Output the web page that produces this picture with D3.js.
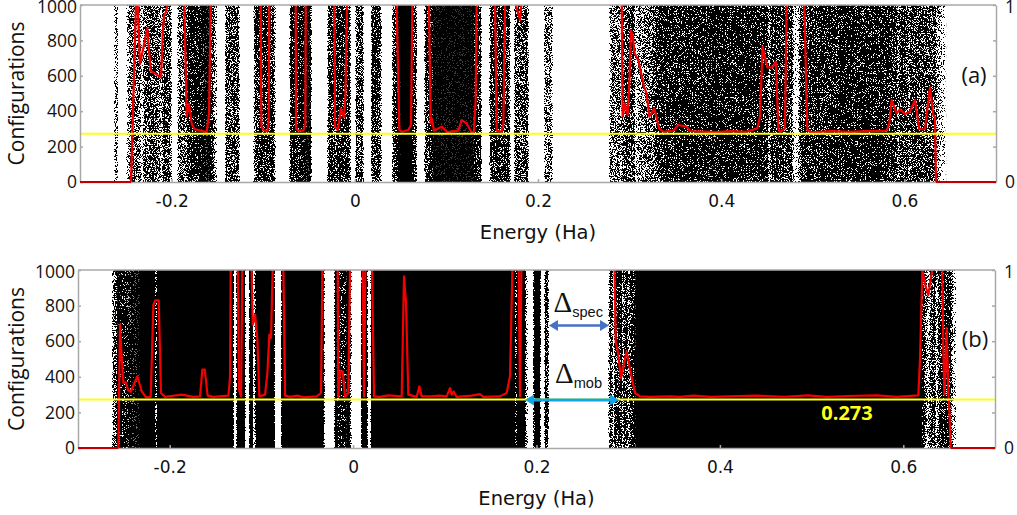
<!DOCTYPE html>
<html>
<head>
<meta charset="utf-8">
<script src="https://cdn.jsdelivr.net/npm/d3@7"></script>
<style>
html, body { margin: 0; padding: 0; background: #fff; }
svg { display: block; }
text { font-family: "Open Sans", sans-serif; fill: #111; }
</style>
</head>
<body>
<script>
var xTicks = [-0.2, 0, 0.2, 0.4, 0.6];
var yTicks = [0, 200, 400, 600, 800, 1000];
var mobilityEdge = 273;

// point density of the scatter, [energy, density 0..1]
var densityA = [[-0.2625,0],[-0.2618,0.45],[-0.2592,0.45],[-0.2585,0],[-0.2497,0],[-0.2454,0.6],[-0.2345,0.55],[-0.2326,0.1],[-0.2301,0.6],[-0.2236,0.7],[-0.2134,0.6],[-0.2115,0.3],[-0.209,0.7],[-0.2017,0.7],[-0.1992,0],[-0.1944,0],[-0.1922,0.55],[-0.1842,0.6],[-0.1817,0.9],[-0.158,0.95],[-0.1537,0.6],[-0.15,0],[-0.1417,0],[-0.1406,0.65],[-0.1271,0.7],[-0.1253,0],[-0.1107,0],[-0.1089,0.8],[-0.0889,0.85],[-0.086,0],[-0.0714,0],[-0.07,0.9],[-0.0489,0.95],[-0.0467,0],[-0.03,0],[-0.0285,0.8],[-0.0059,0.85],[-0.0037,0],[0.0006,0],[0.0017,0.65],[0.0086,0.7],[0.0101,0],[0.0174,0],[0.0188,0.8],[0.0275,0.8],[0.0293,0],[0.0402,0],[0.0421,0.7],[0.0475,0.95],[0.0621,0.97],[0.0668,0.7],[0.0683,0],[0.0756,0],[0.0777,0.8],[0.0857,0.95],[0.1294,0.95],[0.1374,0.75],[0.1385,0],[0.1469,0],[0.1483,0.8],[0.1687,0.8],[0.1702,0],[0.1738,0],[0.1749,0.65],[0.1884,0.7],[0.1902,0],[0.2066,0],[0.2077,0.5],[0.2146,0.5],[0.216,0],[0.2779,0],[0.2793,0.55],[0.2888,0.55],[0.2902,0.3],[0.2932,0.65],[0.3048,0.8],[0.3066,0.1],[0.3099,0.5],[0.3259,0.6],[0.3332,0.85],[0.355,0.9],[0.3914,0.93],[0.4423,0.9],[0.4503,0.85],[0.4522,0.25],[0.4543,0.8],[0.4769,0.8],[0.4795,0.1],[0.4838,0.1],[0.4867,0.8],[0.5297,0.9],[0.5733,0.92],[0.5915,0.8],[0.5934,0.45],[0.5959,0.8],[0.6035,0.7],[0.6054,0.5],[0.6072,0.75],[0.6316,0.7],[0.6389,0.3],[0.6443,0.03],[0.649,0]];
var densityB = [[-0.2633,0],[-0.2614,0.55],[-0.2585,0.6],[-0.2571,0.95],[-0.2524,0.92],[-0.2324,0.95],[-0.2305,1],[-0.216,0.99],[-0.2149,0.4],[-0.2134,0.99],[-0.1633,0.97],[-0.1306,1],[-0.1298,0],[-0.1277,0],[-0.1266,1],[-0.1178,1],[-0.1171,0],[-0.1138,0],[-0.1128,1],[-0.1095,1],[-0.1088,0.15],[-0.1073,0.15],[-0.1062,1],[-0.0859,1],[-0.0848,0],[-0.079,0],[-0.0779,1],[-0.0324,1],[-0.0306,0],[-0.0208,0],[-0.0197,0.98],[-0.0125,0.85],[-0.0041,1],[-0.0012,0],[0.0083,0],[0.0094,1],[0.0152,1],[0.0163,0],[0.0188,0],[0.0199,1],[0.1766,1],[0.1776,0.3],[0.1784,1],[0.1875,1],[0.1885,0.5],[0.1904,0],[0.1958,0],[0.1973,0.9],[0.2002,1],[0.2038,1],[0.2049,0],[0.2085,0],[0.2096,0.9],[0.2125,0.9],[0.2136,0],[0.2783,0],[0.2802,0.75],[0.2827,0.75],[0.2838,0.1],[0.2856,0.85],[0.2929,0.85],[0.294,0.3],[0.2954,0.85],[0.2994,0.7],[0.3005,0.4],[0.3027,0.85],[0.3111,1],[0.611,1],[0.62,0.95],[0.6237,0.7],[0.6273,0.2],[0.6291,0.6],[0.6346,0.85],[0.6364,0.1],[0.6382,0.8],[0.6509,0.9],[0.6546,0.3],[0.6582,0]];

// red curve, [energy, configurations]; values over 1000 leave the frame
var curveA = [[-0.3,0],[-0.2443,0],[-0.2381,1150],[-0.2345,667],[-0.2265,868],[-0.2228,627],[-0.2115,591],[-0.2097,840],[-0.2083,940],[-0.2061,960],[-0.2046,1002],[-0.2,1150],[-0.19,1150],[-0.1861,1002],[-0.1835,369],[-0.181,441],[-0.1781,331],[-0.1751,299],[-0.1617,282],[-0.1591,388],[-0.1573,1002],[-0.15,1150],[-0.11,1150],[-0.1027,1002],[-0.102,313],[-0.0998,294],[-0.0954,286],[-0.094,350],[-0.0933,1002],[-0.09,1150],[-0.07,1150],[-0.0645,1002],[-0.0642,303],[-0.0616,290],[-0.0562,290],[-0.054,322],[-0.0536,1002],[-0.05,1150],[-0.03,1150],[-0.0223,1002],[-0.0216,313],[-0.0187,294],[-0.0168,350],[-0.0154,416],[-0.0118,365],[-0.0103,482],[-0.0085,1002],[-0.005,1150],[0.04,1150],[0.0457,1002],[0.0486,294],[0.0512,284],[0.0584,294],[0.0614,322],[0.0628,1002],[0.065,1150],[0.078,1150],[0.081,1002],[0.0828,331],[0.0839,360],[0.0865,290],[0.0948,313],[0.101,282],[0.113,290],[0.1167,350],[0.1221,331],[0.1276,280],[0.1301,284],[0.1319,463],[0.133,1002],[0.136,1150],[0.15,1150],[0.1531,1002],[0.1549,290],[0.1603,284],[0.1622,331],[0.164,1002],[0.166,1150],[0.174,1150],[0.1757,1002],[0.1804,915],[0.1818,1002],[0.184,1150],[0.288,1150],[0.2914,1002],[0.2924,369],[0.295,444],[0.2979,378],[0.2997,557],[0.3015,855],[0.3033,830],[0.3055,727],[0.3095,689],[0.3157,539],[0.3186,501],[0.3215,369],[0.327,416],[0.3321,303],[0.3368,284],[0.3477,290],[0.3532,322],[0.3623,313],[0.3659,288],[0.38,285],[0.395,282],[0.41,287],[0.4278,284],[0.4394,303],[0.4423,369],[0.4452,765],[0.4503,648],[0.4562,648],[0.4598,680],[0.4623,303],[0.4642,284],[0.4696,303],[0.4714,1002],[0.474,1150],[0.488,1150],[0.4907,1002],[0.494,294],[0.4987,280],[0.52,287],[0.54,283],[0.56,287],[0.5806,290],[0.5835,331],[0.5861,463],[0.5915,388],[0.5951,410],[0.6006,384],[0.6061,397],[0.6116,463],[0.6163,298],[0.6225,298],[0.6279,535],[0.6316,378],[0.6334,369],[0.6345,0],[0.7,0]];
var curveB = [[-0.3,0],[-0.256,0],[-0.2542,693],[-0.2524,515],[-0.2505,365],[-0.248,369],[-0.2451,324],[-0.2425,315],[-0.2353,403],[-0.2305,318],[-0.2258,285],[-0.2207,287],[-0.2178,805],[-0.2156,830],[-0.212,830],[-0.2095,309],[-0.2051,287],[-0.1869,300],[-0.1742,287],[-0.1669,290],[-0.1644,440],[-0.1618,440],[-0.1586,294],[-0.1524,287],[-0.136,294],[-0.1342,400],[-0.1335,1000],[-0.132,1150],[-0.127,1150],[-0.1258,1000],[-0.1244,328],[-0.1222,290],[-0.1208,1000],[-0.118,1150],[-0.113,1150],[-0.1106,1000],[-0.1095,693],[-0.1069,749],[-0.1044,609],[-0.1022,290],[-0.096,300],[-0.0935,421],[-0.0913,637],[-0.0895,618],[-0.0877,1000],[-0.085,1150],[-0.079,1150],[-0.076,1000],[-0.0742,294],[-0.0688,287],[-0.0608,294],[-0.0542,285],[-0.0397,290],[-0.035,309],[-0.0335,1000],[-0.03,1150],[-0.02,1150],[-0.0168,1000],[-0.0161,287],[-0.0143,431],[-0.0113,431],[-0.0088,287],[-0.0052,309],[-0.0034,1000],[0,1150],[0.008,1150],[0.0105,1000],[0.0119,290],[0.0134,1000],[0.015,1150],[0.019,1150],[0.0207,1000],[0.0228,290],[0.0293,287],[0.0384,296],[0.053,290],[0.0555,964],[0.0577,815],[0.0602,300],[0.0693,287],[0.0722,346],[0.0748,290],[0.0857,290],[0.094,294],[0.102,290],[0.1057,337],[0.1075,300],[0.1097,318],[0.1129,287],[0.1293,294],[0.1384,303],[0.142,287],[0.16,290],[0.1675,309],[0.1711,403],[0.1737,1000],[0.175,1150],[0.179,1150],[0.1806,1000],[0.182,290],[0.1835,1000],[0.185,1150],[0.283,1150],[0.2852,1000],[0.2864,590],[0.2881,562],[0.2922,393],[0.2983,543],[0.302,440],[0.3074,309],[0.3129,290],[0.3238,287],[0.3456,290],[0.3565,287],[0.371,294],[0.39,287],[0.42,292],[0.4401,294],[0.47,288],[0.4965,296],[0.5164,287],[0.54,292],[0.571,296],[0.5928,287],[0.6164,296],[0.6182,496],[0.6208,1000],[0.6244,908],[0.6273,858],[0.6299,950],[0.6317,1000],[0.634,1150],[0.64,1150],[0.6426,1000],[0.6437,534],[0.6448,300],[0.6462,460],[0.6473,674],[0.6491,309],[0.6502,215],[0.6517,0],[0.7,0]];

var width = 1017, height = 515;
var svg = d3.select("body").append("svg").attr("width", width).attr("height", height);
var defs = svg.append("defs");

// grain for the scatter: source grey + noise, then hard threshold
var grain = defs.append("filter").attr("id", "grain").attr("x", 0).attr("y", 0)
	.attr("width", 1).attr("height", 1).attr("color-interpolation-filters", "sRGB");
grain.append("feTurbulence").attr("type", "fractalNoise").attr("baseFrequency", 1.37)
	.attr("numOctaves", 1).attr("seed", 4).attr("result", "raw");
grain.append("feColorMatrix").attr("in", "raw").attr("type", "matrix")
	.attr("values", "4 0 0 0 -1.5 4 0 0 0 -1.5 4 0 0 0 -1.5 0 0 0 0 1").attr("result", "noise");
grain.append("feComposite").attr("in", "SourceGraphic").attr("in2", "noise").attr("operator", "arithmetic")
	.attr("k1", 0).attr("k2", 1.1).attr("k3", 1).attr("k4", -1.05).attr("result", "mix");
var cut = grain.append("feComponentTransfer").attr("in", "mix").attr("result", "dots");
["feFuncR", "feFuncG", "feFuncB"].forEach(function(f){
	cut.append(f).attr("type", "linear").attr("slope", 30).attr("intercept", 0);
});
grain.append("feGaussianBlur").attr("in", "dots").attr("stdDeviation", 0.35);

function drawPanel(id, box, density, curve){
	var x = d3.scaleLinear().domain([-0.3, 0.7]).range([box.left, box.right]);
	var y = d3.scaleLinear().domain([0, 1000]).range([box.bottom, box.top]);
	var g = svg.append("g").attr("id", "panel" + id);

	var grad = defs.append("linearGradient").attr("id", "dens" + id)
		.attr("gradientUnits", "userSpaceOnUse")
		.attr("x1", box.left).attr("x2", box.right).attr("y1", 0).attr("y2", 0);
	grad.selectAll("stop").data(density).enter().append("stop")
		.attr("offset", function(d){ return (x(d[0]) - box.left) / (box.right - box.left); })
		.attr("stop-color", function(d){ var v = Math.round(255 * (1 - d[1])); return d3.rgb(v, v, v).formatHex(); });

	g.append("rect").attr("x", box.left).attr("y", box.top)
		.attr("width", box.right - box.left).attr("height", box.bottom - box.top)
		.attr("fill", "url(#dens" + id + ")").attr("filter", "url(#grain)");

	defs.append("clipPath").attr("id", "clip" + id).append("rect")
		.attr("x", box.left).attr("y", box.top)
		.attr("width", box.right - box.left).attr("height", box.bottom - box.top);

	var line = d3.line().x(function(d){ return x(d[0]); }).y(function(d){ return y(d[1]); });
	g.append("path").datum(curve).attr("d", line).attr("fill", "none")
		.attr("stroke", "#f50000").attr("stroke-width", 2.2).attr("stroke-linejoin", "round")
		.attr("clip-path", "url(#clip" + id + ")");

	g.append("line").attr("x1", box.left).attr("x2", box.right)
		.attr("y1", y(mobilityEdge)).attr("y2", y(mobilityEdge))
		.attr("stroke", "#ffff14").attr("stroke-width", 2);

	// axes and frame
	var frame = "#a8a8a8";
	var bottom = g.append("g").attr("transform", "translate(0," + box.bottom + ")")
		.call(d3.axisBottom(x).tickValues(xTicks).tickSizeInner(-3).tickSizeOuter(0).tickPadding(13)
			.tickFormat(function(d){ return d == 0 ? "0" : d3.format(".1f")(d).replace("\u2212", "-"); }));
	var left = g.append("g").attr("transform", "translate(" + box.left + ",0)")
		.call(d3.axisLeft(y).tickValues(yTicks).tickSizeInner(-3).tickSizeOuter(0).tickPadding(3).tickFormat(d3.format("d")));
	var rightScale = d3.scaleLinear().domain([0, 1]).range([box.bottom, box.top]);
	var right = g.append("g").attr("transform", "translate(" + box.right + ",0)")
		.call(d3.axisRight(rightScale).tickValues(yTicks.map(function(d){ return d / 1000; }))
			.tickSizeInner(-3).tickSizeOuter(0).tickPadding(9)
			.tickFormat(function(d){ return d == 0 || d == 1 ? d : ""; }));
	g.append("line").attr("x1", box.left).attr("x2", box.right).attr("y1", box.top).attr("y2", box.top)
		.attr("stroke", frame).attr("stroke-width", 1.5);
	[bottom, left, right].forEach(function(a){
		a.selectAll("path, line").attr("stroke", frame).attr("stroke-width", 1.5);
		a.selectAll("text").style("font-family", '"Open Sans", sans-serif').style("font-size", "17.5px").attr("fill", "#111");
	});
	bottom.selectAll("text").style("font-family", '"DejaVu Sans", sans-serif').style("font-size", "17px");
	// top labels sit a little lower than the tick
	left.selectAll("text").filter(function(d){ return d == 1000; }).attr("dy", "0.4em");
	right.selectAll("text").filter(function(d){ return d == 1; }).attr("dy", "0.4em");

	// flat part at zero is darker and lies over the frame
	var zeros = curve.filter(function(d){ return d[1] == 0; });
	[zeros.slice(0, 2), zeros.slice(-2)].forEach(function(part){
		g.append("path").datum(part).attr("d", line).attr("fill", "none")
			.attr("stroke", "#c00000").attr("stroke-width", 2);
	});

	g.append("text").attr("x", (box.left + box.right) / 2 - 0).attr("y", box.bottom + 57)
		.attr("text-anchor", "middle").style("font-family", '"DejaVu Sans", sans-serif').style("font-size", "19.5px").text("Energy (Ha)");
	g.append("text").attr("transform", "translate(24," + (box.top + box.bottom) / 2 + ") rotate(-90)")
		.attr("text-anchor", "middle").style("font-size", "21px").text("Configurations");
	return { x: x, y: y, g: g };
}

var a = drawPanel("A", { left: 80, right: 996, top: 5, bottom: 182 }, densityA, curveA);
var b = drawPanel("B", { left: 78, right: 995, top: 270, bottom: 448 }, densityB, curveB);

a.g.append("text").attr("x", 974).attr("y", 83).attr("text-anchor", "middle").style("font-size", "22px").text("(a)");
b.g.append("text").attr("x", 975).attr("y", 347).attr("text-anchor", "middle").style("font-size", "22px").text("(b)");

// double headed arrows for the two gaps
function gapArrow(from, to, yPos, color, w, head){
	var x0 = b.x(from), x1 = b.x(to);
	b.g.append("line").attr("x1", x0 + head).attr("x2", x1 - head).attr("y1", yPos).attr("y2", yPos)
		.attr("stroke", color).attr("stroke-width", w);
	b.g.append("path").attr("fill", color)
		.attr("d", "M" + x0 + "," + yPos + "l" + head + "," + (-head * 0.6) + "v" + (head * 1.2) + "z"
			+ "M" + x1 + "," + yPos + "l" + (-head) + "," + (-head * 0.6) + "v" + (head * 1.2) + "z");
}
gapArrow(0.2136, 0.2791, 325.5, "#4472c4", 2.6, 9);
gapArrow(0.1875, 0.2900, 400, "#10a5e8", 3.2, 9);

function gapLabel(xPos, yPos, sub){
	var t = b.g.append("text").attr("x", xPos).attr("y", yPos).style("font-family", '"Liberation Serif", serif');
	t.append("tspan").style("font-size", "29px").text("Δ");
	t.append("tspan").attr("dy", 5).style("font-size", "14.6px").style("font-family", '"Liberation Sans", sans-serif').text(sub);
}
gapLabel(553.5, 312, "spec");
gapLabel(555, 382.7, "mob");

b.g.append("text").attr("x", 847).attr("y", 420).attr("text-anchor", "middle")
	.style("font-size", "20px").style("font-weight", "700").style("fill", "#ffff14").text("0.273");
</script>
</body>
</html>
